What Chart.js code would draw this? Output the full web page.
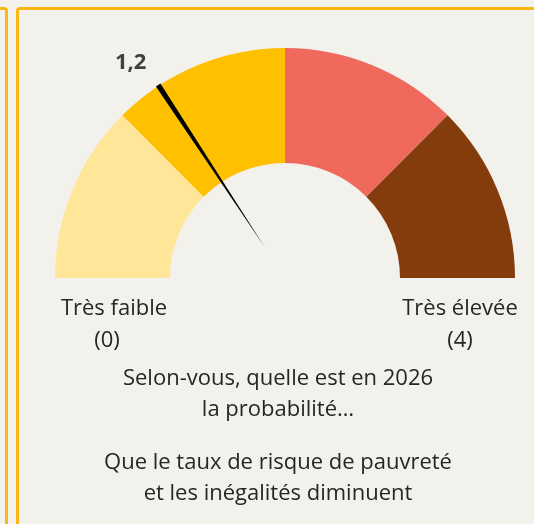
<!DOCTYPE html>
<html lang="fr">
<head>
<meta charset="utf-8">
<script src="https://cdn.jsdelivr.net/npm/chart.js@4.4.1/dist/chart.umd.min.js"></script>
<style>
    html, body { margin: 0; padding: 0; }
    body {
        width: 534px; height: 524px; overflow: hidden; position: relative;
        background: #f2f1ec;
        font-family: 'Open Sans', sans-serif; color: #262626;
    }
    .cadre { position: absolute; border: 3px solid #fbb616; border-radius: 4px; box-sizing: border-box; }
    #gauge { position: absolute; left: 0; top: 0; }
    .txt { position: absolute; font-size: 22px; line-height: 32px; white-space: nowrap; transform: translateX(-50%); }
</style>
</head>
<body>
<div class="cadre" style="left:-200px; top:7px; width:208px; height:700px;"></div>
<div class="cadre" style="left:16px; top:7px; width:700px; height:700px;"></div>

<canvas id="gauge" width="534" height="524"></canvas>

<div class="txt" style="left:114px; top:290px;">Très faible</div>
<div class="txt" style="left:107px; top:322px;">(0)</div>
<div class="txt" style="left:460px; top:290px;">Très élevée</div>
<div class="txt" style="left:460px; top:322px;">(4)</div>
<div class="txt" style="left:278px; top:360px;">Selon-vous, quelle est en 2026</div>
<div class="txt" style="left:278px; top:391px;">la probabilité…</div>
<div class="txt" style="left:278px; top:444px;">Que le taux de risque de pauvreté</div>
<div class="txt" style="left:278px; top:475px;">et les inégalités diminuent</div>

<script>
document.addEventListener('DOMContentLoaded', function() {

    //  Data
    const niveaux = ['0-1', '1-2', '2-3', '3-4'];
    const tranches = [1, 1, 1, 1];
    const couleurs = ['#ffe699', '#ffc000', '#ef6a5d', '#843c0c'];
    const echelleMax = 4;
    const aiguille = [1.26];

    //  Needle Plugin Block
    const jauge = {
        id: 'jauge',
        afterDatasetsDraw(chart, args, options) {
            const arc = chart.getDatasetMeta(0).data[0];
            const cx = arc.x, cy = arc.y, r = arc.outerRadius;
            const val = aiguille[0];
            const ang = Math.PI + (val / echelleMax) * Math.PI;
            const ux = Math.cos(ang), uy = Math.sin(ang);
            const px = -uy, py = ux;    // perpendiculaire
            const ctx = chart.ctx;
            ctx.save();

            //  aiguille effilee
            const rBase = r + 1, rPointe = r * 0.16, demi = 2.7;
            ctx.beginPath();
            ctx.moveTo(cx + ux*rBase + px*demi, cy + uy*rBase + py*demi);
            ctx.lineTo(cx + ux*rBase - px*demi, cy + uy*rBase - py*demi);
            ctx.lineTo(cx + ux*rPointe, cy + uy*rPointe);
            ctx.closePath();
            ctx.fillStyle = options.needleColor;
            ctx.fill();

            //  valeur
            const txt = (Math.floor(val * 10) / 10).toFixed(1).replace('.', ',');
            const rt = r + 28;
            ctx.font = 'bold ' + options.fontSize + 'px ' + options.fontFamily;
            ctx.textAlign = 'right';
            ctx.textBaseline = 'middle';
            ctx.fillStyle = options.fontColor;
            ctx.fillText(txt, cx + ux*rt + 3, cy + uy*rt);
            ctx.restore();
        }
    };

    //  Config Block
    const config = {
        type: 'doughnut',
        data: {
            labels: niveaux,
            datasets: [{
                data: tranches,
                backgroundColor: couleurs,
                borderWidth: 0,
                hoverOffset: 0,
                offset: 0
            }]
        },
        options: {
            responsive: false,
            animation: false,
            events: [],
            rotation: -90,
            circumference: 180,
            cutout: '50%',
            layout: { padding: { left: 55, right: 19, top: 48, bottom: 246 } },
            plugins: {
                legend: { display: false },
                tooltip: { enabled: false },
                jauge: {
                    needleColor: '#000000',
                    fontColor: '#404040',
                    fontSize: 22,
                    fontFamily: "'Open Sans', sans-serif"
                }
            }
        },
        plugins: [jauge]
    };

    new Chart(document.getElementById('gauge'), config);

});
</script>
</body>
</html>
